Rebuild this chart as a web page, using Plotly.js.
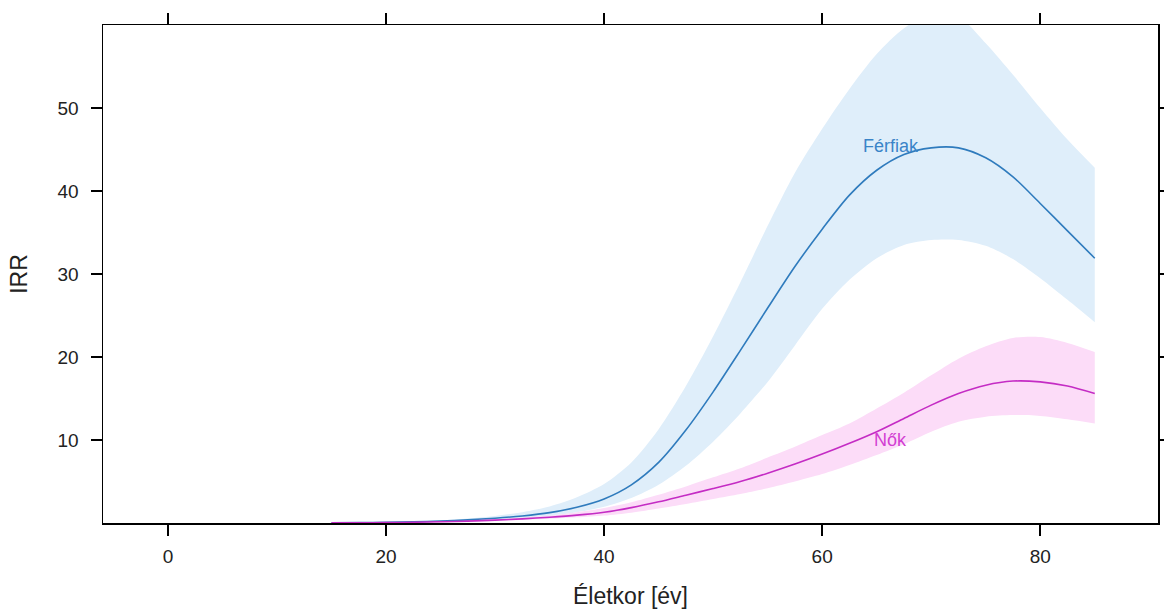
<!DOCTYPE html>
<html>
<head>
<meta charset="utf-8">
<script src="https://cdn.plot.ly/plotly-3.0.1.min.js"></script>
<style>html,body{margin:0;padding:0;background:#fff;}#chart{width:1164px;height:611px;}</style>
</head>
<body>
<div id="chart"></div>
<script>
// Age (x axis, years)
const age = [15,17.5,20,22.5,25,27.5,30,32.5,35,37.5,40,42.5,45,47.5,50,52.5,55,57.5,60,62.5,65,67.5,70,72.5,75,77.5,80,82.5,85];
// Men (Férfiak)
const irrMen      = [0.02,0.04,0.08,0.14,0.24,0.38,0.58,0.85,1.25,1.9,2.9,4.6,7.3,11.2,15.8,20.8,25.9,30.9,35.4,39.5,42.5,44.4,45.2,45.2,44.0,41.7,38.5,35.2,31.9];
const irrMenUpper = [0.03,0.06,0.12,0.2,0.34,0.55,0.85,1.3,2.0,3.1,4.7,7.3,11.3,16.5,22.5,29.0,35.8,42.2,47.5,52.3,56.5,59.6,61.4,61.0,57.8,54.0,50.0,46.2,42.8];
const irrMenLower = [0.01,0.02,0.05,0.09,0.16,0.26,0.4,0.6,0.88,1.3,1.95,3.0,4.6,6.9,9.8,13.2,17.0,21.4,25.8,29.3,31.9,33.5,34.1,34.1,33.4,31.8,29.5,26.9,24.2];
// Women (Nők)
const irrWomen      = [0.01,0.03,0.05,0.09,0.15,0.23,0.35,0.5,0.7,0.95,1.3,1.85,2.55,3.35,4.15,5.0,6.0,7.1,8.3,9.6,11.0,12.6,14.2,15.6,16.6,17.1,17.0,16.5,15.6];
const irrWomenUpper = [0.02,0.04,0.08,0.13,0.2,0.3,0.45,0.65,0.9,1.3,1.8,2.5,3.4,4.4,5.5,6.6,7.9,9.2,10.6,12.0,13.8,15.7,17.8,19.8,21.3,22.3,22.4,21.7,20.6];
const irrWomenLower = [0.005,0.015,0.03,0.06,0.1,0.16,0.25,0.36,0.5,0.68,0.9,1.25,1.75,2.3,2.9,3.5,4.2,5.0,5.9,7.0,8.2,9.5,11.0,12.2,12.8,13.0,12.9,12.5,12.0];

const groupLabels = ["Férfiak", "Nők"];
const labelPos = [[66.3, 45.4], [66.3, 10.0]];
const xTicks = [0, 20, 40, 60, 80];
const yTicks = [10, 20, 30, 40, 50];

const blueLine = "#2f7bbd", blueFill = "#dfeefa";
const pinkLine = "#c42cc4", pinkFill = "#fcdcf8";
const FONT = "Liberation Sans, Arial, sans-serif";

const traces = [
  {x: age, y: irrMenLower, mode: "lines", line: {width: 0, shape: "spline", smoothing: 0.8}, hoverinfo: "skip", showlegend: false},
  {x: age, y: irrMenUpper, mode: "lines", line: {width: 0, shape: "spline", smoothing: 0.8}, fill: "tonexty", fillcolor: blueFill, hoverinfo: "skip", showlegend: false},
  {x: age, y: irrWomenLower, mode: "lines", line: {width: 0, shape: "spline", smoothing: 0.8}, hoverinfo: "skip", showlegend: false},
  {x: age, y: irrWomenUpper, mode: "lines", line: {width: 0, shape: "spline", smoothing: 0.8}, fill: "tonexty", fillcolor: pinkFill, hoverinfo: "skip", showlegend: false},
  {x: age, y: irrMen, mode: "lines", line: {color: blueLine, width: 1.6, shape: "spline", smoothing: 0.8}, name: groupLabels[0], showlegend: false},
  {x: age, y: irrWomen, mode: "lines", line: {color: pinkLine, width: 1.6, shape: "spline", smoothing: 0.8}, name: groupLabels[1], showlegend: false}
];

const axisCommon = {
  showgrid: false, zeroline: false, showline: true, linecolor: "#000", linewidth: 1.5,
  mirror: "ticks", ticks: "outside", ticklen: 11, tickwidth: 1.5, tickcolor: "#000",
  tickfont: {family: FONT, size: 19, color: "#222"}
};

const layout = {
  width: 1164, height: 611,
  margin: {l: 103, r: 6, t: 25, b: 88},
  paper_bgcolor: "#fff", plot_bgcolor: "#fff",
  showlegend: false,
  xaxis: Object.assign({}, axisCommon, {
    range: [-5.96, 90.8], tickvals: xTicks, ticktext: xTicks.map(String), ticklabelstandoff: 5,
    title: {text: "Életkor [év]", font: {family: FONT, size: 23, color: "#222"}, standoff: 21}
  }),
  yaxis: Object.assign({}, axisCommon, {
    range: [0, 60], tickvals: yTicks, ticktext: yTicks.map(String), ticklabelstandoff: 8,
    title: {text: "IRR", font: {family: FONT, size: 23, color: "#222"}, standoff: 23}
  }),
  annotations: [
    {x: labelPos[0][0], y: labelPos[0][1], text: groupLabels[0], showarrow: false, font: {family: FONT, size: 18, color: "#3a84c8"}},
    {x: labelPos[1][0], y: labelPos[1][1], text: groupLabels[1], showarrow: false, font: {family: FONT, size: 18, color: "#d23ed2"}}
  ]
};

Plotly.newPlot("chart", traces, layout, {displayModeBar: false, staticPlot: true});
</script>
</body>
</html>
